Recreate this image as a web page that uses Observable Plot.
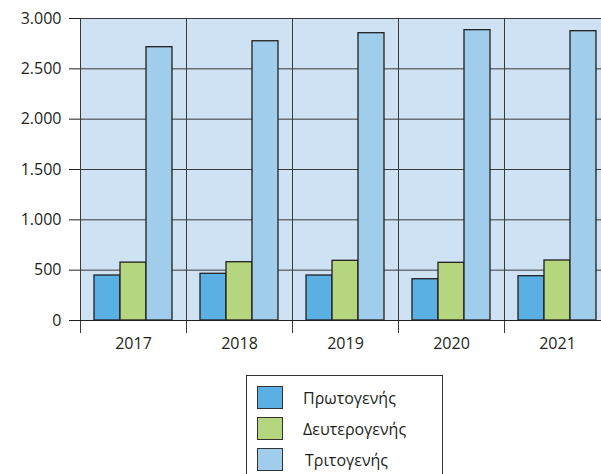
<!DOCTYPE html>
<html><head><meta charset="utf-8">
<script src="https://cdn.jsdelivr.net/npm/d3@7"></script>
<script src="https://cdn.jsdelivr.net/npm/@observablehq/plot@0.6"></script>
<style>
body{margin:0;background:#fff;font-family:"Open Sans",sans-serif;color:#231f20}
#chart svg{display:block;overflow:hidden}
#legend{margin-left:246px;margin-top:15px;width:197px;border:1px solid #333;border-bottom:none;padding:6px 0 12px 10px;box-sizing:border-box}
.item{display:flex;align-items:center;height:31px;font-size:16px;line-height:1}
.item span.sw{flex:none;width:26px;height:23px;border:1.5px solid #333;box-sizing:border-box;margin-right:20px}
</style></head><body>
<div id="chart"></div>
<div id="legend"></div>
<script>
const years = ["2017", "2018", "2019", "2020", "2021"];
const series = ["Πρωτογενής", "Δευτερογενής", "Τριτογενής"];
const primary = [447, 464, 447, 410, 440];
const secondary = [575, 579, 593, 573, 596];
const tertiary = [2715, 2774, 2854, 2884, 2874];
const yTicks = [0, 500, 1000, 1500, 2000, 2500, 3000];
const colors = ["#5aafe3", "#b5d67f", "#a0cdec"];

const valuesBySeries = [primary, secondary, tertiary];
const data = [];
years.forEach((yr, i) => series.forEach((s, j) => data.push({year: yr, series: s, value: valuesBySeries[j][i]})));

const fmt = d3.formatLocale({decimal: ",", thousands: ".", grouping: [3], currency: ["", "€"]}).format(",d");

const chart = Plot.plot({
  width: 601,
  height: 360,
  marginTop: 18,
  marginBottom: 40,
  marginLeft: 80,
  marginRight: -9,
  style: {fontFamily: "'Open Sans', sans-serif", fontSize: "16px", color: "#231f20", background: "transparent"},
  fx: {domain: years, padding: 0, axis: "bottom", tickSize: 0, tickPadding: 17, label: null},
  x: {domain: series, paddingInner: 0, paddingOuter: 0.5, axis: null},
  y: {domain: [0, 3000], ticks: yTicks, tickFormat: fmt, tickSize: 11, tickPadding: 8, label: null},
  color: {domain: series, range: colors},
  marks: [
    Plot.frame({fill: "#cfe2f3", stroke: null}),
    Plot.ruleY(yTicks.filter(d => d > 0), {stroke: "#3a3a3a", strokeWidth: 1}),
    Plot.frame({anchor: "left", insetBottom: -12, stroke: "#3a3a3a", strokeWidth: 1}),
    Plot.barY(data, {fx: "year", x: "series", y: "value", fill: "series", stroke: "#231f20", strokeWidth: 1.3}),
    Plot.ruleY([0], {stroke: "#231f20", strokeWidth: 1.2})
  ]
});
document.getElementById("chart").appendChild(chart);

const legend = document.getElementById("legend");
series.forEach((s, j) => {
  const item = document.createElement("div");
  item.className = "item";
  const sw = document.createElement("span");
  sw.className = "sw";
  sw.style.background = colors[j];
  const label = document.createElement("span");
  label.textContent = s;
  if (j === 2) label.style.marginLeft = "2px";
  item.appendChild(sw);
  item.appendChild(label);
  legend.appendChild(item);
});
</script>
</body></html>
